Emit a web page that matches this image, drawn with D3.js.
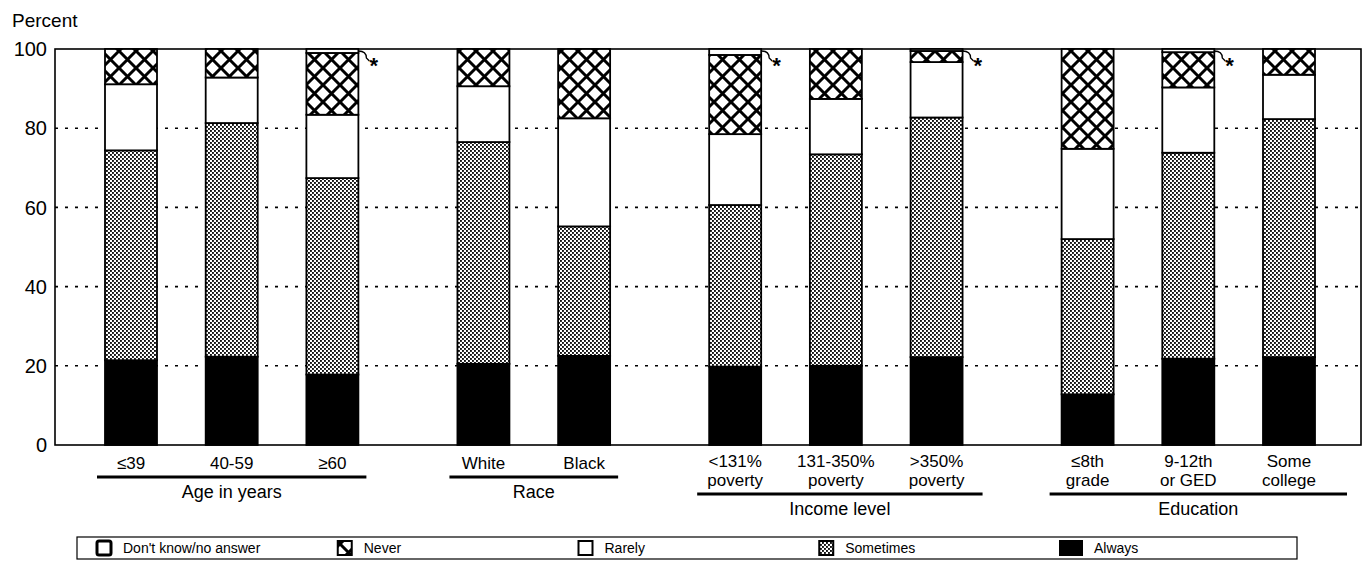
<!DOCTYPE html>
<html>
<head>
<meta charset="utf-8">
<script src="https://cdn.jsdelivr.net/npm/d3@7"></script>
<style>
  html, body { margin: 0; padding: 0; background: #fff; }
  svg { display: block; font-family: "Liberation Sans", Arial, Helvetica, sans-serif; }
</style>
</head>
<body>
<svg id="chart" width="1364" height="561"></svg>
<script>
// ---------------- data ----------------
const groups = ["Age in years", "Race", "Income level", "Education"];
const categories = [
  ["≤39"], ["40-59"], ["≥60"],
  ["White"], ["Black"],
  ["<131%", "poverty"], ["131-350%", "poverty"], [">350%", "poverty"],
  ["≤8th", "grade"], ["9-12th", "or GED"], ["Some", "college"]
];
const categoryGroup = [0, 0, 0, 1, 1, 2, 2, 2, 3, 3, 3];
const always    = [21.4, 22.3, 17.8, 20.5, 22.5, 19.8, 20.0, 22.2, 12.8, 21.8, 22.2];
const sometimes = [53.0, 59.0, 49.6, 56.0, 32.7, 40.8, 53.4, 60.5, 39.2, 52.0, 60.1];
const rarely    = [16.7, 11.5, 16.0, 14.1, 27.3, 17.9, 14.0, 14.0, 22.8, 16.5, 11.2];
const never     = [ 8.9,  7.2, 15.6,  9.4, 17.5, 20.0, 12.6,  2.8, 25.2,  8.9,  6.5];
const dontKnow  = [ 0.0,  0.0,  1.0,  0.0,  0.0,  1.5,  0.0,  0.5,  0.0,  0.8,  0.0];
const flagged   = [false, false, true, false, false, true, false, true, false, true, false];
const yTicks = [0, 20, 40, 60, 80, 100];
const seriesKeys = ["always", "sometimes", "rarely", "never", "dontKnow"];
const legendLabels = ["Don't know/no answer", "Never", "Rarely", "Sometimes", "Always"];
const legendKeys = ["dontKnow", "never", "rarely", "sometimes", "always"];
const yTitle = "Percent";

// ---------------- setup ----------------
const svg = d3.select("#chart");
const plotLeft = 55, plotRight = 1361, plotTop = 49, plotBottom = 445;
const barW = 52;

const rows = categories.map((c, i) => ({
  idx: i, always: always[i], sometimes: sometimes[i], rarely: rarely[i],
  never: never[i], dontKnow: dontKnow[i]
}));

// slot index: step 1 within group, 1.5 between groups
const slots = [];
let s = 0;
categoryGroup.forEach((g, i) => {
  if (i > 0) s += (g === categoryGroup[i - 1]) ? 1 : 1.5;
  slots.push(s);
});
const x = d3.scaleLinear().domain([0, d3.max(slots)]).range([105, 1263]);
const y = d3.scaleLinear().domain([0, 100]).range([plotBottom, plotTop]);

// ---------------- patterns ----------------
const defs = svg.append("defs");
const dots = defs.append("pattern").attr("id", "pat-sometimes")
  .attr("patternUnits", "userSpaceOnUse").attr("width", 4).attr("height", 4);
dots.append("rect").attr("width", 4).attr("height", 4).attr("fill", "#fff");
dots.append("rect").attr("x", 0).attr("y", 0).attr("width", 1.9).attr("height", 1.9).attr("fill", "#111");
dots.append("rect").attr("x", 2).attr("y", 2).attr("width", 1.9).attr("height", 1.9).attr("fill", "#111");

const hatch = defs.append("pattern").attr("id", "pat-never")
  .attr("patternUnits", "userSpaceOnUse").attr("width", 17).attr("height", 17);
hatch.append("rect").attr("width", 17).attr("height", 17).attr("fill", "#fff");
hatch.append("path").attr("d", "M0,0L17,17M17,0L0,17M-2,15L2,19M15,-2L19,2M-2,2L2,-2M15,19L19,15")
  .attr("stroke", "#000").attr("stroke-width", 3);

const fills = {
  always: "#000",
  sometimes: "url(#pat-sometimes)",
  rarely: "#fff",
  never: "url(#pat-never)",
  dontKnow: "#fff"
};

// ---------------- gridlines ----------------
svg.append("g").selectAll("line")
  .data(yTicks.filter(t => t > 0 && t < 100))
  .join("line")
  .attr("x1", plotLeft).attr("x2", plotRight)
  .attr("y1", d => y(d)).attr("y2", d => y(d))
  .attr("stroke", "#000").attr("stroke-width", 1.6)
  .attr("stroke-dasharray", "3,7");

// ---------------- frame ----------------
svg.append("rect")
  .attr("x", plotLeft).attr("y", plotTop)
  .attr("width", plotRight - plotLeft).attr("height", plotBottom - plotTop)
  .attr("fill", "none").attr("stroke", "#000").attr("stroke-width", 1.6);

// ---------------- bars ----------------
const stack = d3.stack().keys(seriesKeys);
const stacked = stack(rows);
svg.append("g").selectAll("g")
  .data(stacked)
  .join("g")
  .attr("fill", d => fills[d.key])
  .selectAll("rect")
  .data(d => d.filter(p => p[1] - p[0] > 0))
  .join("rect")
  .attr("x", p => x(slots[p.data.idx]))
  .attr("y", p => y(p[1]))
  .attr("width", barW)
  .attr("height", p => y(p[0]) - y(p[1]))
  .attr("stroke", "#000").attr("stroke-width", 1.8);

// ---------------- asterisk callouts ----------------
const flags = svg.append("g");
rows.filter(r => flagged[r.idx]).forEach(r => {
  const bx = x(slots[r.idx]) + barW;
  const by = y(100) + 2;
  flags.append("path")
    .attr("d", `M${bx},${by} C${bx + 6},${by} ${bx + 8},${by + 3} ${bx + 8},${by + 7} L${bx + 11},${by + 10}`)
    .attr("fill", "none").attr("stroke", "#000").attr("stroke-width", 1.3);
  flags.append("text")
    .attr("x", bx + 11).attr("y", by + 22)
    .attr("font-size", 22).attr("font-weight", "bold")
    .text("*");
});

// ---------------- y axis labels ----------------
svg.append("g").selectAll("text")
  .data(yTicks)
  .join("text")
  .attr("x", 47).attr("y", d => y(d))
  .attr("dy", "0.36em")
  .attr("text-anchor", "end")
  .attr("font-size", 20)
  .text(d => d);
svg.append("text").attr("x", 12).attr("y", 27).attr("font-size", 19).text(yTitle);

// ---------------- category labels (multi-line text) ----------------
const catG = svg.append("g").attr("font-size", 17).attr("text-anchor", "middle");
categories.forEach((lines, i) => {
  const cx = x(slots[i]) + barW / 2;
  const t = catG.append("text").attr("x", cx).attr("y", lines.length > 1 ? 467 : 469);
  lines.forEach((ln, j) => {
    t.append("tspan").attr("x", cx).attr("dy", j === 0 ? 0 : 19.2).text(ln);
  });
});

// ---------------- group underlines & labels ----------------
groups.forEach((g, gi) => {
  const idxs = categoryGroup.map((v, i) => v === gi ? i : -1).filter(v => v >= 0);
  const twoLine = d3.max(idxs, i => categories[i].length) > 1;
  const left = x(slots[idxs[0]]) - (twoLine ? 12 : 8);
  const right = x(slots[idxs[idxs.length - 1]]) + barW + (gi === 3 ? 32 : (twoLine ? 20 : 8));
  const ly = twoLine ? 494 : 477;
  svg.append("line").attr("x1", left).attr("x2", right)
    .attr("y1", ly).attr("y2", ly)
    .attr("stroke", "#000").attr("stroke-width", 3);
  svg.append("text").attr("x", (left + right) / 2).attr("y", ly + 21)
    .attr("text-anchor", "middle").attr("font-size", 18).text(g);
});

// ---------------- legend ----------------
const lg = svg.append("g");
lg.append("rect").attr("x", 77).attr("y", 537).attr("width", 1220).attr("height", 22)
  .attr("fill", "none").attr("stroke", "#000").attr("stroke-width", 1.2);
const lx = d3.scaleLinear().domain([0, legendKeys.length - 1]).range([97, 1060]);
legendKeys.forEach((k, i) => {
  const ix = lx(i);
  const w = k === "always" ? 22 : 14;
  lg.append("rect").attr("x", ix).attr("y", 541).attr("width", w).attr("height", 14)
    .attr("fill", fills[k]).attr("stroke", "#000").attr("stroke-width", k === "dontKnow" ? 3 : 2)
    .attr("rx", k === "dontKnow" ? 2 : 0);
  lg.append("text").attr("x", ix + w + 12).attr("y", 553)
    .attr("font-size", 14).text(legendLabels[i]);
});
</script>
</body>
</html>
